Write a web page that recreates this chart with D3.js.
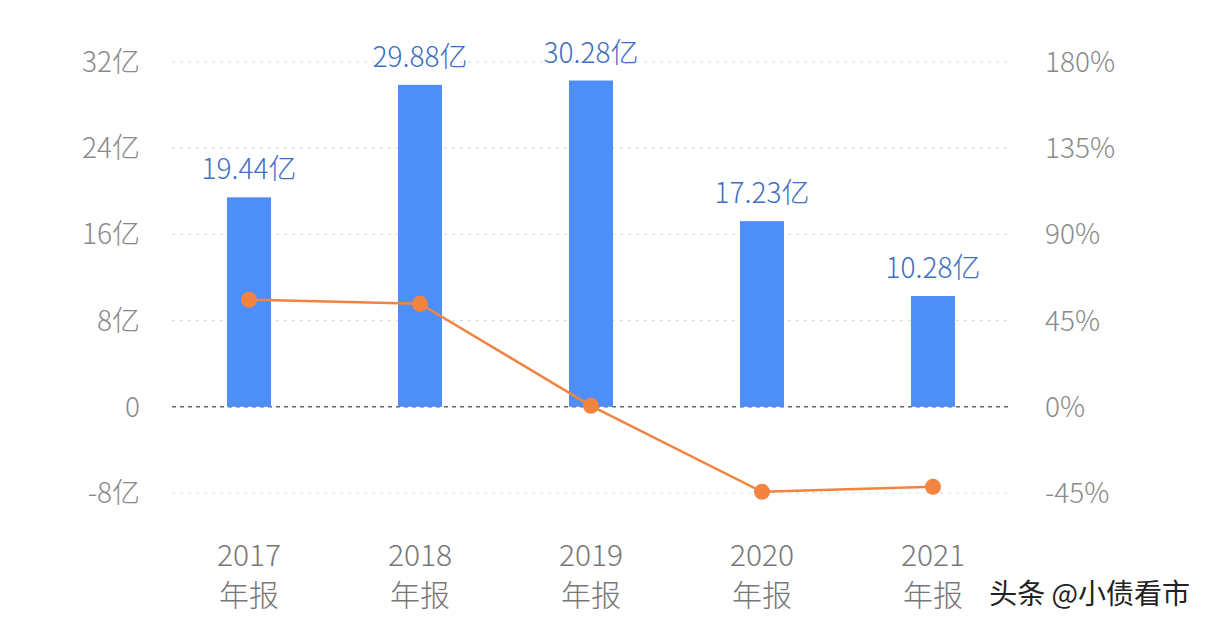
<!DOCTYPE html>
<html><head><meta charset="utf-8">
<script src="https://cdn.jsdelivr.net/npm/d3@7/dist/d3.min.js"></script>
<style>body{margin:0;background:#fff}text{font-family:"Noto Sans CJK SC","Noto Sans",sans-serif}</style>
</head><body><svg id="c" width="1210" height="628"></svg>
<script>
const years=["2017","2018","2019","2020","2021"];
const profit=[19.44,29.88,30.28,17.23,10.28];
const growth=[55.9,53.8,0.5,-44.4,-41.8];
const leftTicks=[-8,0,8,16,24,32];
const rightTicks=[-45,0,45,90,135,180];

const svg=d3.select("#c");
const x=d3.scalePoint().domain(years).range([249,933]);
const bw=44;
const yL=d3.scaleLinear().domain([-8,32]).range([493,62]);
const yR=d3.scaleLinear().domain([-45,180]).range([493,62]);

leftTicks.forEach(t=>{
  svg.append("line").attr("x1",172).attr("x2",1010).attr("y1",yL(t)).attr("y2",yL(t))
   .attr("stroke",t===0?"#666":"#cfe0ee").attr("stroke-width",t===0?1.5:1.2)
   .attr("stroke-dasharray",t===0?"4,4":"3,5");
});
svg.append("g").selectAll("text").data(leftTicks).join("text")
 .attr("x",140).attr("y",d=>yL(d)+10).attr("text-anchor","end")
 .attr("font-size",28).attr("font-weight",300).attr("fill","#8a8a8a").text(d=>d===0?"0":d+"亿");
svg.append("g").selectAll("text").data(rightTicks).join("text")
 .attr("x",1045).attr("y",d=>yR(d)+10).attr("text-anchor","start")
 .attr("font-size",28).attr("font-weight",300).attr("fill","#8a8a8a").text(d=>d+"%");

svg.append("g").selectAll("rect").data(profit).join("rect")
 .attr("x",(d,i)=>x(years[i])-bw/2).attr("width",bw)
 .attr("y",d=>yL(d)).attr("height",d=>yL(0)-yL(d)).attr("fill","#4d8ef8");
svg.append("g").selectAll("text").data(profit).join("text")
 .attr("x",(d,i)=>x(years[i])).attr("y",d=>yL(d)-18)
 .attr("text-anchor","middle").attr("font-size",28).attr("font-weight",300).attr("fill","#3f6fbf").text(d=>d.toFixed(2)+"亿");

const line=d3.line().x((d,i)=>x(years[i])).y(d=>yR(d));
svg.append("path").datum(growth).attr("d",line).attr("fill","none").attr("stroke","#f3843f").attr("stroke-width",2.5);
svg.append("g").selectAll("circle").data(growth).join("circle")
 .attr("cx",(d,i)=>x(years[i])).attr("cy",d=>yR(d)).attr("r",8).attr("fill","#f3843f");

const xl=svg.append("g").selectAll("g").data(years).join("g");
xl.append("text").attr("x",d=>x(d)).attr("y",566).attr("text-anchor","middle")
 .attr("font-size",30).attr("font-weight",300).attr("fill","#777").text(d=>d);
xl.append("text").attr("x",d=>x(d)).attr("y",606).attr("text-anchor","middle")
 .attr("font-size",30).attr("font-weight",300).attr("fill","#777").text("年报");

svg.append("text").attr("x",1190).attr("y",604).attr("text-anchor","end").attr("font-size",28)
 .attr("fill","#222").attr("stroke","#fff").attr("stroke-width",3).attr("paint-order","stroke").text("头条 @小债看市");
</script></body></html>
